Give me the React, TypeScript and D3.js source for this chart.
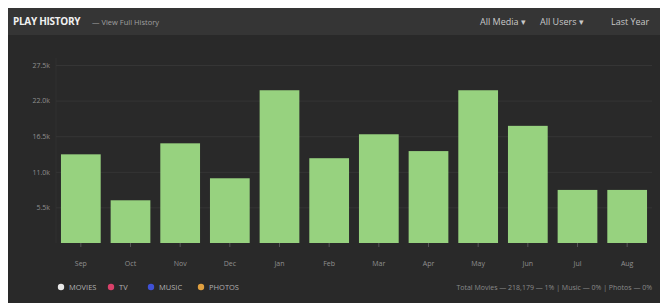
import React, { useRef, useEffect } from "react";
import * as d3 from "d3";

const months = ["Sep", "Oct", "Nov", "Dec", "Jan", "Feb", "Mar", "Apr", "May", "Jun", "Jul", "Aug"];
const plays = [13.7, 6.6, 15.4, 10.0, 23.6, 13.1, 16.8, 14.2, 23.6, 18.1, 8.2, 8.2]; // thousands
const yTicks = [5.5, 11, 16.5, 22, 27.5];
const legendItems = ["MOVIES", "TV", "MUSIC", "PHOTOS"];
const legendColors = ["#e8e8e8", "#d9416a", "#3f51d6", "#e0a040"];

const W = 652;
const H = 295;

const PlayHistory = () => {
    const svgRef = useRef<SVGSVGElement>(null);

    useEffect(() => {
        const svg = d3.select(svgRef.current);
        svg.selectAll("*").remove();

        // backgrounds
        svg.append("rect").attr("width", W).attr("height", H).attr("fill", "#292929");
        svg.append("rect").attr("width", W).attr("height", 27).attr("fill", "#353535");

        // header
        svg.append("text")
            .attr("x", 5).attr("y", 17)
            .style("font-family", "'Open Sans', sans-serif")
            .style("font-size", "10px").style("font-weight", "bold")
            .style("letter-spacing", "-0.3px")
            .attr("fill", "#f0f0f0")
            .text("PLAY HISTORY");
        svg.append("text")
            .attr("x", 84).attr("y", 16.5)
            .style("font-family", "'Open Sans', sans-serif")
            .style("font-size", "7.5px")
            .attr("fill", "#a0a0a0")
            .text("— View Full History");

        const menus = [
            { label: "All Media ▾", x: 472 },
            { label: "All Users ▾", x: 532 },
            { label: "Last Year", x: 603 },
        ];
        svg.selectAll(".menu")
            .data(menus)
            .enter()
            .append("text")
            .attr("class", "menu")
            .attr("x", d => d.x).attr("y", 17)
            .style("font-family", "'Open Sans', sans-serif")
            .style("font-size", "9px")
            .attr("fill", "#c8c8c8")
            .text(d => d.label);

        // scales
        const x = d3.scaleBand().domain(months).range([48, 644]).paddingInner(0.2).paddingOuter(0.1);
        const y = d3.scaleLinear().domain([0, 27.5]).range([235, 57]);

        // grid + y labels
        const yAxis = svg.append("g")
            .attr("transform", "translate(48,0)")
            .call(d3.axisLeft(y).tickValues(yTicks).tickSize(-596).tickFormat(d => `${d3.format(".1f")(d as number)}k`));
        yAxis.select(".domain").attr("stroke", "#313131").attr("d", "M0,50V235");
        yAxis.selectAll(".tick line").attr("stroke", "#353535");
        yAxis.selectAll("text")
            .attr("x", -6)
            .attr("fill", "#909090")
            .style("font-family", "'Open Sans', sans-serif")
            .style("font-size", "7px");

        // bars
        svg.selectAll(".bar")
            .data(plays)
            .enter()
            .append("rect")
            .attr("class", "bar")
            .attr("x", (d, i) => x(months[i])!)
            .attr("y", d => y(d))
            .attr("width", x.bandwidth())
            .attr("height", d => y(0) - y(d))
            .attr("fill", "#97d27f");

        // x axis
        const xAxis = svg.append("g")
            .attr("transform", "translate(0,235)")
            .call(d3.axisBottom(x).tickSize(4).tickPadding(14));
        xAxis.select(".domain").remove();
        xAxis.selectAll(".tick line").attr("stroke", "#555");
        xAxis.selectAll("text")
            .attr("fill", "#909090")
            .style("font-family", "'Open Sans', sans-serif")
            .style("font-size", "7px");

        // legend
        const lx = [53, 103, 143, 193];
        const legend = svg.selectAll(".legend")
            .data(legendItems)
            .enter()
            .append("g")
            .attr("class", "legend")
            .attr("transform", (d, i) => `translate(${lx[i]},279)`);
        legend.append("circle").attr("r", 3.2).attr("fill", (d, i) => legendColors[i]);
        legend.append("text")
            .attr("x", 8).attr("y", 2.5)
            .style("font-family", "'Open Sans', sans-serif")
            .style("font-size", "7.5px")
            .attr("fill", "#b0b0b0")
            .text(d => d);

        svg.append("text")
            .attr("x", 644).attr("y", 282)
            .attr("text-anchor", "end")
            .style("font-family", "'Open Sans', sans-serif")
            .style("font-size", "7px")
            .attr("fill", "#8a8a8a")
            .text("Total Movies — 218,179 — 1% | Music — 0% | Photos — 0%");
    }, []);

    return <svg ref={svgRef} width={W} height={H} style={{ display: "block" }}></svg>;
};

export default function App() {
    return (
        <div style={{ position: "fixed", left: 8, top: 8, width: W, height: H, overflow: "hidden" }}>
            <PlayHistory />
        </div>
    );
}
